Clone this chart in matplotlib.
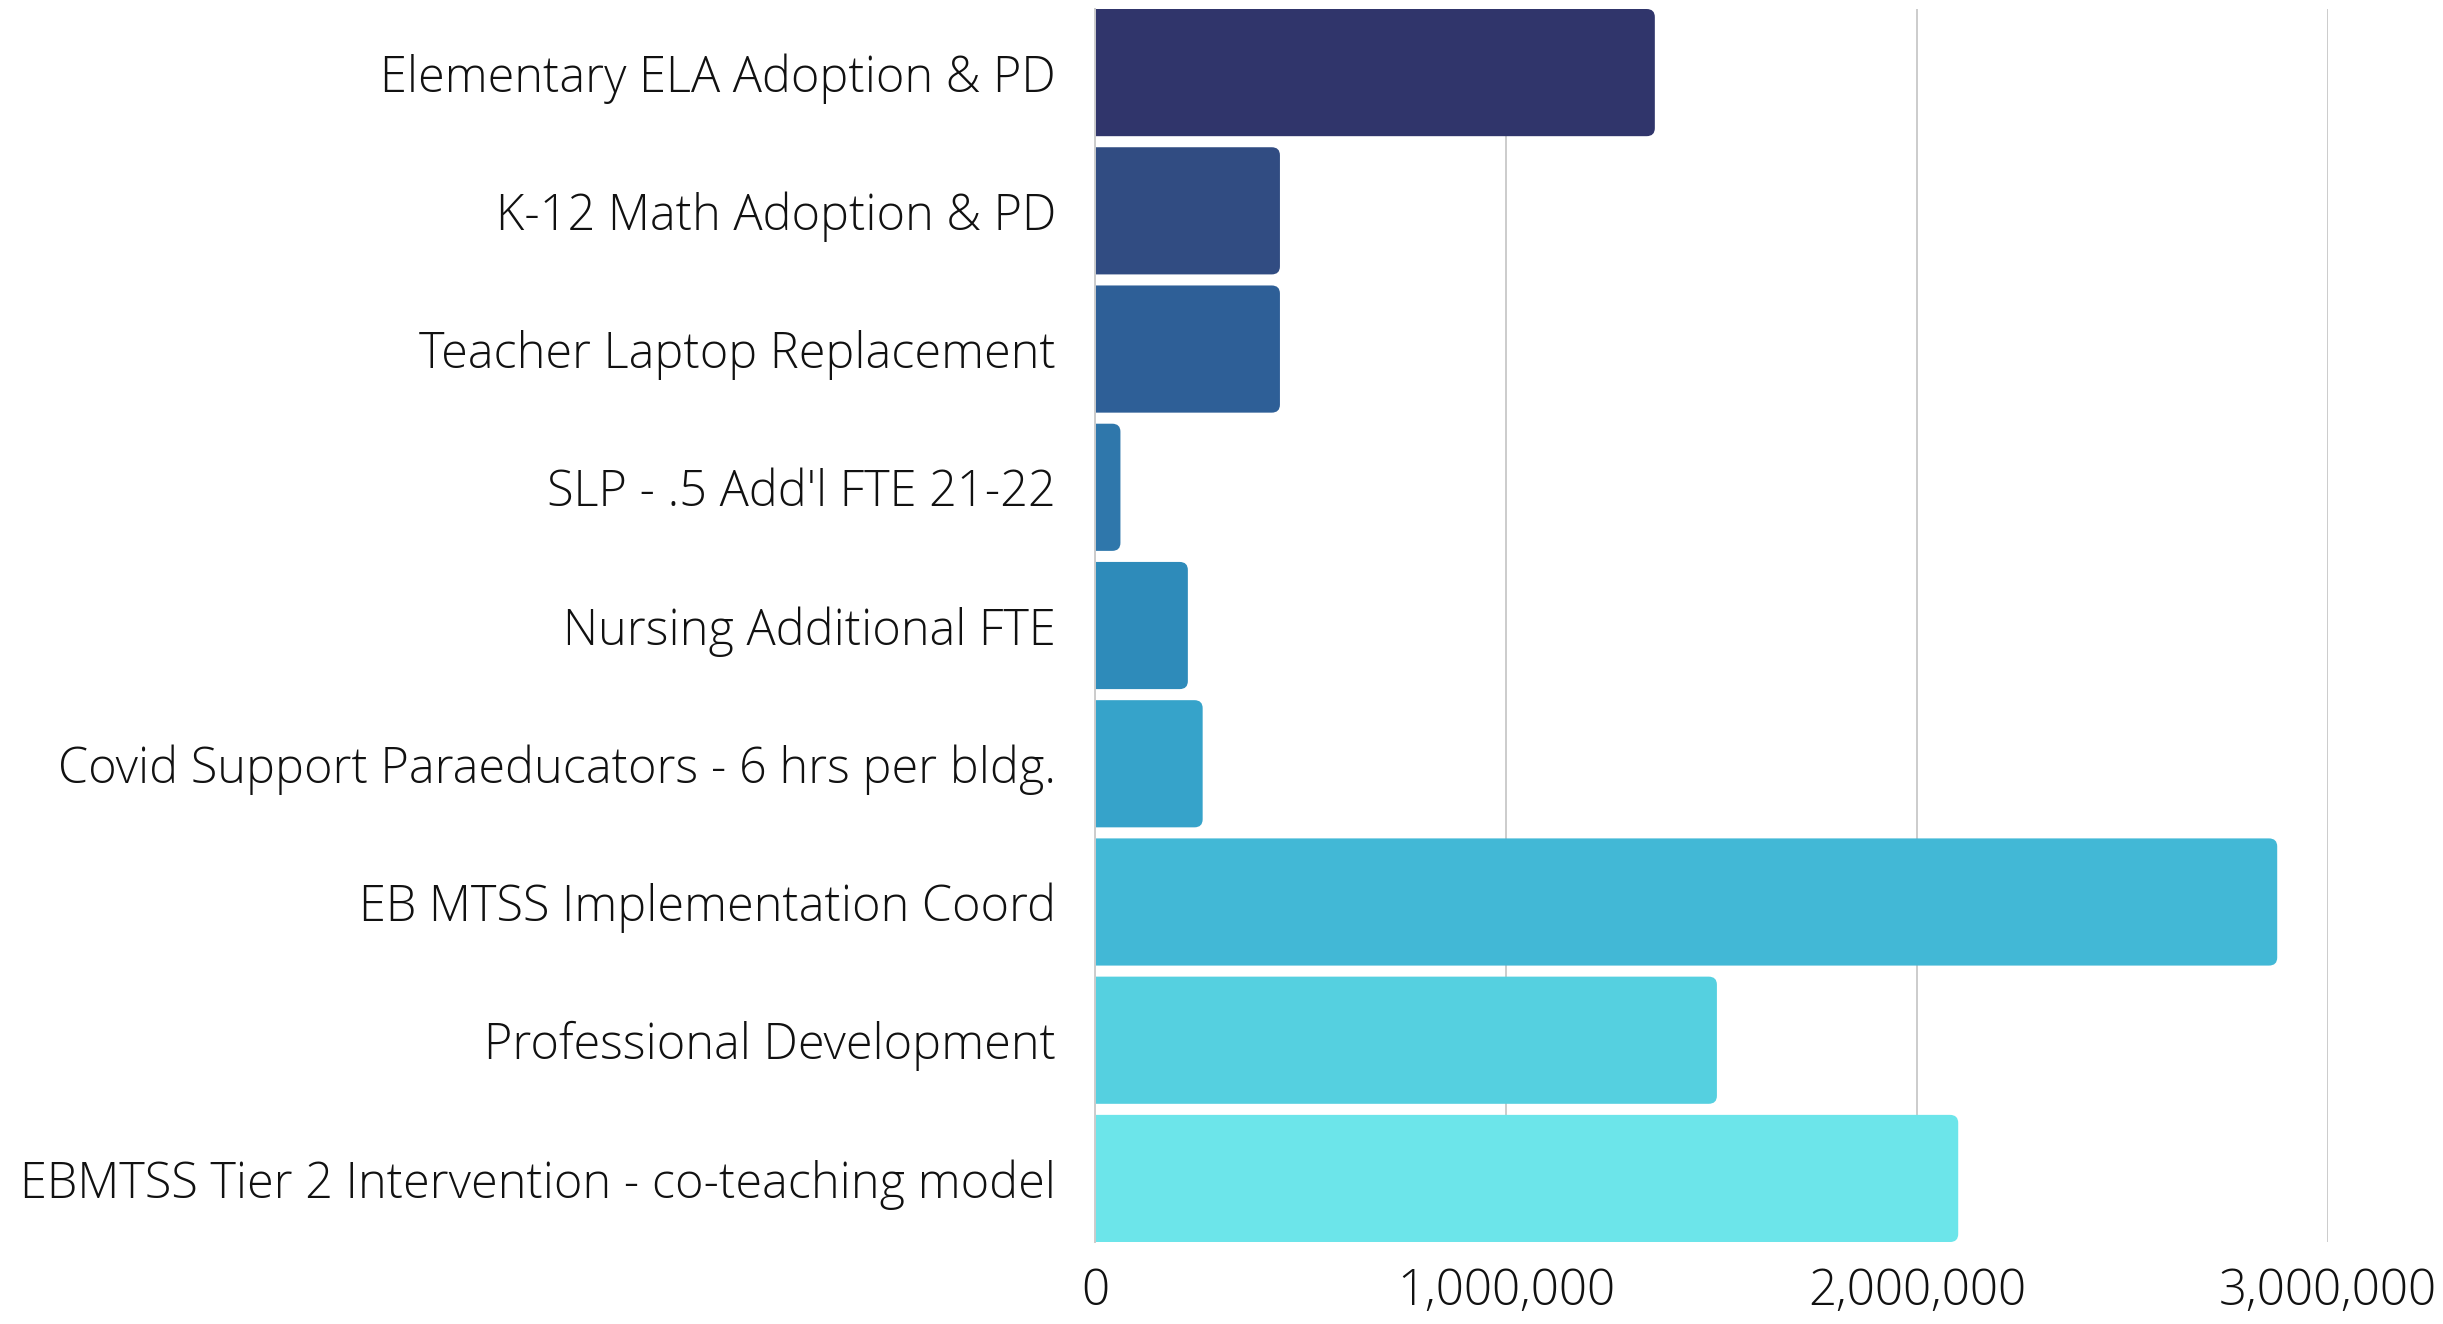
import matplotlib.pyplot as plt
from matplotlib.patches import FancyBboxPatch
from matplotlib.ticker import FuncFormatter

# data
categories = [
    "Elementary ELA Adoption & PD",
    "K-12 Math Adoption & PD",
    "Teacher Laptop Replacement",
    "SLP - .5 Add'l FTE 21-22",
    "Nursing Additional FTE",
    "Covid Support Paraeducators - 6 hrs per bldg.",
    "EB MTSS Implementation Coord",
    "Professional Development",
    "EBMTSS Tier 2 Intervention - co-teaching model",
]
amounts = [1362000, 450000, 450000, 62000, 226000, 262000, 2876000, 1513000, 2100000]
colors = ["#30356B", "#314C82", "#2E5F97", "#2F77AB", "#2E8BBA",
          "#36A3CA", "#42B8D6", "#55D0E0", "#6CE5EA"]
xticks = [0, 1000000, 2000000, 3000000]

plt.rcParams["font.family"] = ["Open Sans", "DejaVu Sans"]

fig = plt.figure(figsize=(24.43, 13.24), dpi=100)
ax = fig.add_axes([0.4482, 0.0619, 0.953 - 0.4482, 0.9932 - 0.0619])

pos = list(range(len(categories)))
bars = ax.barh(pos, amounts, height=0.92, color=colors, zorder=3)

# rounded right corners: swap each bar for a rounded box, left side clipped at x=0
r = 20000
for b, c in zip(bars, colors):
    b.set_visible(False)
    x, y, w, h = b.get_x(), b.get_y(), b.get_width(), b.get_height()
    p = FancyBboxPatch((x - 2 * r, y), w + 2 * r, h,
                       boxstyle=f"round,pad=0,rounding_size={r}",
                       mutation_aspect=0.058 / r, facecolor=c,
                       edgecolor="none", zorder=3)
    ax.add_patch(p)

ax.set_ylim(len(categories) - 1 + 0.46, -0.46)
ax.set_xlim(0, 3000000)
ax.set_yticks(pos)
ax.set_yticklabels(categories, fontsize=35, fontweight="light", color="#111111")
ax.set_xticks(xticks)
ax.xaxis.set_major_formatter(FuncFormatter(lambda v, p: f"{int(v):,}"))
for lab in ax.get_xticklabels():
    lab.set_fontsize(35.5)
    lab.set_fontweight("light")
    lab.set_color("#111111")

ax.tick_params(axis="y", length=0, pad=28)
ax.tick_params(axis="x", length=0, pad=18)
ax.grid(axis="x", color="#cccccc", linewidth=1.4, zorder=0)
for s in ["top", "right", "bottom"]:
    ax.spines[s].set_visible(False)
ax.spines["left"].set_color("#cccccc")
ax.spines["left"].set_linewidth(1.4)
ax.spines["left"].set_zorder(4)

fig.savefig("out.png", dpi=100)
